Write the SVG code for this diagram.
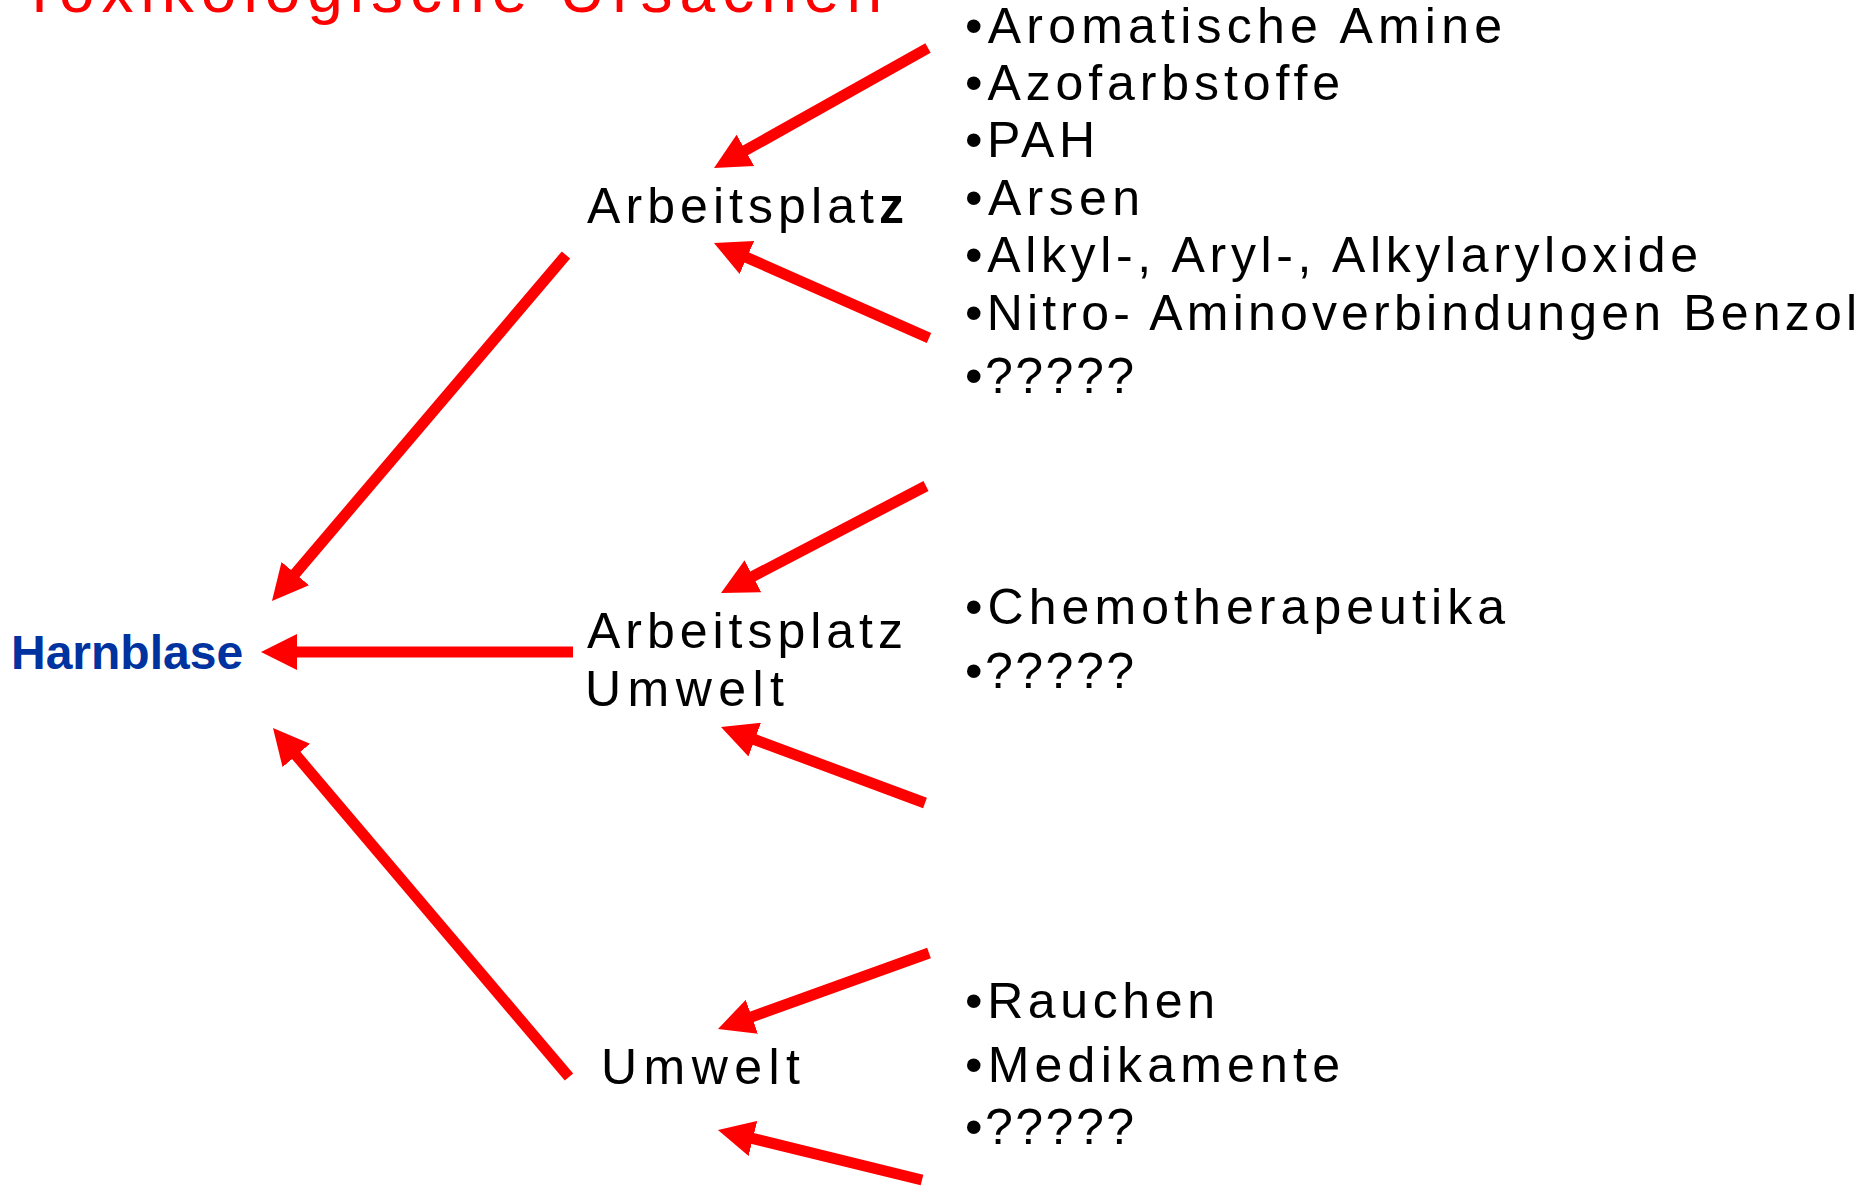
<svg xmlns="http://www.w3.org/2000/svg" width="1866" height="1192" viewBox="0 0 1866 1192">
<style>
.t{font-family:"Liberation Sans",Arial,sans-serif;font-size:50px;fill:#000}
.title{font-family:"Liberation Sans",Arial,sans-serif;font-size:64px;fill:#ff0000}
.hb{font-family:"Liberation Sans",Arial,sans-serif;font-size:48px;font-weight:bold;fill:#0033a0}
.c{stroke:#ff0000;stroke-width:11;fill:none;marker-end:url(#ah)}
</style>
<defs>
<marker id="ah" markerUnits="userSpaceOnUse" markerWidth="36" markerHeight="36" refX="6" refY="18" orient="auto">
<path d="M0,0 L36,18 L0,36 Z" fill="#ff0000"/>
</marker>
</defs>
<rect width="1866" height="1192" fill="#fff"/>
<text class="title" x="20" y="12" textLength="862">Toxikologische Ursachen</text>
<g id="harnblase"><text class="hb" x="11" y="669">Harnblase</text></g>
<g id="arbeitsplatz"><text class="t" x="587" y="223" textLength="317">Arbeitspla<tspan>t</tspan><tspan font-weight="bold">z</tspan></text></g>
<g id="arbeitsplatz-umwelt">
<text class="t" x="587" y="648" textLength="316">Arbeitsplatz</text>
<text class="t" x="585" y="706" textLength="199">Umwelt</text>
</g>
<g id="umwelt"><text class="t" x="601" y="1084" textLength="199">Umwelt</text></g>
<g id="list-arbeitsplatz">
<text class="t" x="965" y="43" textLength="537">•Aromatische Amine</text>
<text class="t" x="965" y="100" textLength="375">•Azofarbstoffe</text>
<text class="t" x="965" y="157" textLength="130">•PAH</text>
<text class="t" x="965" y="215" textLength="175">•Arsen</text>
<text class="t" x="965" y="272" textLength="733">•Alkyl-, Aryl-, Alkylaryloxide</text>
<text class="t" x="965" y="330" textLength="892">•Nitro- Aminoverbindungen Benzol</text>
<text class="t" x="965" y="393" textLength="169">•?????</text>
</g>
<g id="list-beide">
<text class="t" x="965" y="624" textLength="540">•Chemotherapeutika</text>
<text class="t" x="965" y="688" textLength="169">•?????</text>
</g>
<g id="list-umwelt">
<text class="t" x="965" y="1018" textLength="250">•Rauchen</text>
<text class="t" x="965" y="1082" textLength="375">•Medikamente</text>
<text class="t" x="965" y="1144" textLength="169">•?????</text>
</g>
<g id="connectors">
<line class="c" x1="928" y1="48" x2="740.2" y2="153.3"/>
<line class="c" x1="929" y1="338" x2="741.4" y2="255.1"/>
<line class="c" x1="566" y1="255" x2="291.4" y2="578.1"/>
<line class="c" x1="573" y1="652" x2="291" y2="652"/>
<line class="c" x1="569" y1="1077" x2="292.4" y2="750.9"/>
<line class="c" x1="926" y1="486" x2="747.6" y2="579.1"/>
<line class="c" x1="925" y1="803" x2="749.1" y2="737.5"/>
<line class="c" x1="929" y1="953" x2="746.2" y2="1018.8"/>
<line class="c" x1="922" y1="1180" x2="747.1" y2="1137.1"/>
</g>
</svg>
